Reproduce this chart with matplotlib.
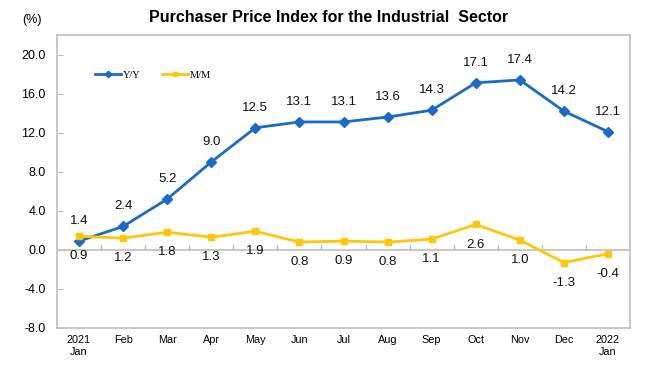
import numpy as np
import matplotlib.pyplot as plt

months = ["2021\nJan", "Feb", "Mar", "Apr", "May", "Jun", "Jul", "Aug", "Sep",
          "Oct", "Nov", "Dec", "2022\nJan"]
yy_values = [0.9, 2.4, 5.2, 9.0, 12.5, 13.1, 13.1, 13.6, 14.3, 17.1, 17.4, 14.2, 12.1]
mm_values = [1.4, 1.2, 1.8, 1.3, 1.9, 0.8, 0.9, 0.8, 1.1, 2.6, 1.0, -1.3, -0.4]
# labels as printed in the source chart (first month labels are swapped there)
yy_labels = ["1.4", "2.4", "5.2", "9.0", "12.5", "13.1", "13.1", "13.6", "14.3",
             "17.1", "17.4", "14.2", "12.1"]
mm_labels = ["0.9", "1.2", "1.8", "1.3", "1.9", "0.8", "0.9", "0.8", "1.1",
             "2.6", "1.0", "-1.3", "-0.4"]
yticks = [-8.0, -4.0, 0.0, 4.0, 8.0, 12.0, 16.0, 20.0]

blue = "#1A6BCB"
yellow = "#FFC60A"
grey = "#BEBEBE"
plt.rcParams['font.family'] = ['Liberation Sans', 'DejaVu Sans']

fig = plt.figure(figsize=(6.45, 3.9), dpi=100)
ax = fig.add_axes([57/645, 62/390, 573/645, 293/390])

x = np.arange(len(months))
ax.plot(x, yy_values, color=blue, lw=2, marker="D", ms=5.5, label="Y/Y", zorder=3)
ax.plot(x, mm_values, color=yellow, lw=2, marker="s", ms=5, label="M/M", zorder=3)

for i in x:
    ax.annotate(yy_labels[i], (i, yy_values[i]), xytext=(0, 14.5), textcoords="offset points",
                ha="center", va="center", fontsize=9.5, color="#111111")
    ax.annotate(mm_labels[i], (i, mm_values[i]), xytext=(0, -14.5), textcoords="offset points",
                ha="center", va="center", fontsize=9.5, color="#111111")

ax.set_xlim(-0.5, len(months) - 0.5)
ax.set_ylim(-8, 22)
ax.set_yticks(yticks)
ax.set_yticklabels([f"{v:.1f}" for v in yticks], fontsize=9)
ax.tick_params(axis="y", direction="in", length=4, color=grey, pad=8)
ax.set_xticks(x)
ax.set_xticklabels(months, fontsize=7.8, family=['Liberation Sans Narrow', 'Liberation Sans'])
ax.tick_params(axis="x", length=0, pad=5)
for s in ax.spines.values():
    s.set_color(grey)
    s.set_linewidth(1.2)

# zero line with category separator ticks
ax.axhline(0, color=grey, lw=1.2, zorder=1)
for b in np.arange(0.5, len(months) - 1, 1):
    ax.plot([b, b], [0, 0.5], color=grey, lw=1, zorder=1)

leg = ax.legend(loc="upper left", bbox_to_anchor=(0.05, 0.91), ncol=2, frameon=False,
                prop={'family': 'Liberation Serif', 'size': 7.5}, handlelength=2.5,
                markerscale=0.6, columnspacing=2.0, handletextpad=0.2)

fig.text(0.51, 0.955, "Purchaser Price Index for the Industrial  Sector", ha="center",
         va="center", fontsize=11.5, fontweight="bold")
fig.text(22/645, 0.95, "(%)", ha="left", va="center", fontsize=9)

fig.savefig("out.png", dpi=100)
